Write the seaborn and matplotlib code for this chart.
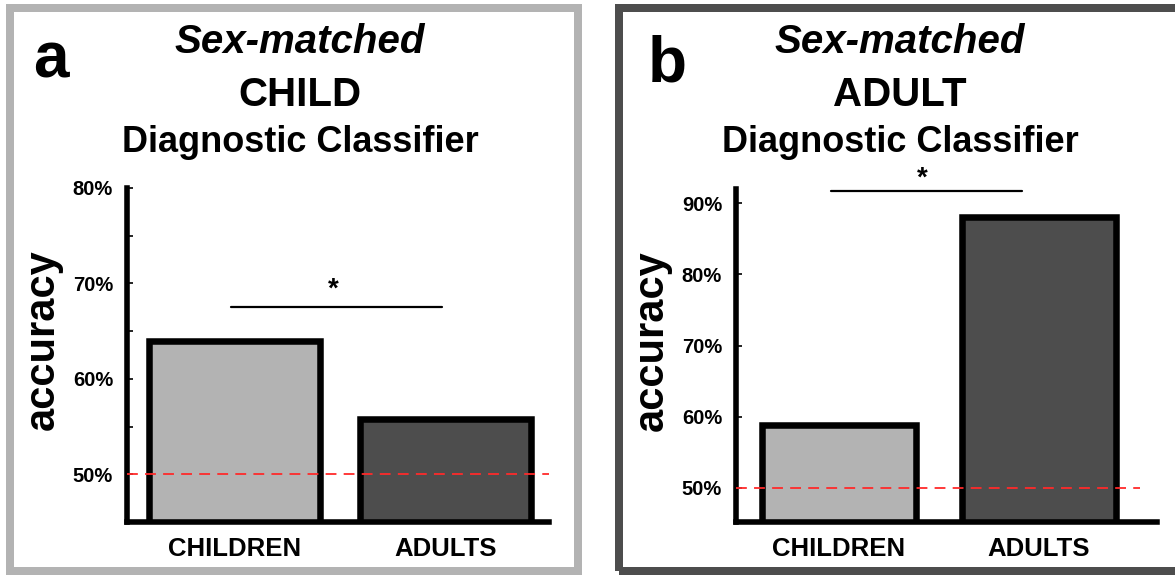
import matplotlib
matplotlib.use("Agg")
import matplotlib.pyplot as plt
import seaborn as sns
import pandas as pd
from matplotlib.patches import Rectangle
from matplotlib.ticker import FixedLocator, FuncFormatter

# ---------------- data ----------------
groups = ["CHILDREN", "ADULTS"]
child_classifier_acc = [64.0, 55.8]   # panel a (%)
adult_classifier_acc = [58.8, 88.0]   # panel b (%)
chance_level = 50
bar_colors = ["#b3b3b3", "#4d4d4d"]
panel_letters = ["a", "b"]
panel_targets = ["CHILD", "ADULT"]
a_major_ticks = [50, 60, 70, 80]
a_minor_ticks = [55, 65, 75]
b_major_ticks = [50, 60, 70, 80, 90]

# ---------------- style ----------------
sns.set_style("white")
plt.rcParams["font.family"] = ["Liberation Sans", "DejaVu Sans"]
plt.rcParams["font.weight"] = "bold"
plt.rcParams["text.color"] = "black"
plt.rcParams["axes.labelcolor"] = "black"
plt.rcParams["xtick.color"] = "black"
plt.rcParams["ytick.color"] = "black"

W, H = 1175, 575
fig = plt.figure(figsize=(W / 100, H / 100), dpi=100)


def fx(px):
    return px / W


def fy(py):
    return 1 - py / H


def make_axes(left, right, bottom, top):
    return fig.add_axes([fx(left), fy(bottom), fx(right) - fx(left), fy(top) - fy(bottom)])


ax_a = make_axes(127, 549, 522, 188)
ax_b = make_axes(736, 1157, 522, 189)

pct = FuncFormatter(lambda v, p: f"{v:.0f}%")

panels = [
    (ax_a, child_classifier_acc, (45, 80), a_major_ticks, a_minor_ticks, 0.81, (-0.51, 1.49)),
    (ax_b, adult_classifier_acc, (45.2, 92), b_major_ticks, [], 0.77, (-0.515, 1.59)),
]

for ax, vals, ylim, majors, minors, bw, xlim in panels:
    df = pd.DataFrame({"group": groups, "accuracy": vals})
    sns.barplot(data=df, x="group", y="accuracy", hue="group", palette=bar_colors,
                edgecolor="black", linewidth=4.7, width=bw, legend=False, ax=ax,
                saturation=1)
    ax.set_ylim(*ylim)
    ax.set_xlim(*xlim)
    ax.yaxis.set_major_locator(FixedLocator(majors))
    ax.yaxis.set_minor_locator(FixedLocator(minors))
    ax.yaxis.set_major_formatter(pct)
    ax.tick_params(axis="y", which="both", direction="in", length=4, width=1.2,
                   pad=10, labelsize=14.5, left=True, color="black", labelcolor="black")
    ax.tick_params(axis="x", length=0, pad=11, labelsize=18.5, labelcolor="black")
    for s in ["top", "right"]:
        ax.spines[s].set_visible(False)
    for s in ["left", "bottom"]:
        ax.spines[s].set_linewidth(4)
        ax.spines[s].set_color("black")
    ax.set_xlabel("")
    ax.set_ylabel("accuracy", fontsize=30, fontweight="bold", color="black")
    ax.yaxis.set_label_coords(-0.152, 0.545)
    ax.patch.set_alpha(0)

# chance lines
ax_a.axhline(chance_level, color="#ff2a2a", lw=1.3, ls=(0, (6, 4)), zorder=6, xmax=1.0)
ax_b.axhline(chance_level, color="#ff2a2a", lw=1.3, ls=(0, (6, 4)), zorder=6, xmax=0.96)

# significance markers
ax_a.plot([-0.017, 0.985], [67.5, 67.5], color="black", lw=1.6, clip_on=False)
ax_a.text(0.47, 69.4, "*", ha="center", va="center", fontsize=20, clip_on=False)
ax_b.plot([-0.04, 0.915], [91.7, 91.7], color="black", lw=1.6, clip_on=False)
ax_b.text(0.415, 93.4, "*", ha="center", va="center", fontsize=20, clip_on=False)

# titles
for cx, letter_x, letter_base, letter, target in [(300, 33, 78, "a", "CHILD"),
                                                  (900, 648, 82, "b", "ADULT")]:
    fig.text(fx(letter_x), fy(letter_base), letter, fontsize=46, fontweight="bold",
             ha="left", va="baseline", color="black")
    fig.text(fx(cx), fy(53), "Sex-matched", fontsize=29, fontweight="bold",
             style="italic", ha="center", va="baseline", color="black")
    fig.text(fx(cx), fy(106), target, fontsize=29, fontweight="bold",
             ha="center", va="baseline", color="black")
    fig.text(fx(cx), fy(152), "Diagnostic Classifier", fontsize=26, fontweight="bold",
             ha="center", va="baseline", color="black")

# panel frames
lw_frame = 8 * 72 / 100
fig.add_artist(Rectangle((fx(10), fy(571)), fx(578) - fx(10), fy(8) - fy(571),
                         transform=fig.transFigure, fill=False, edgecolor="#b3b3b3",
                         lw=lw_frame, joinstyle="miter"))
fig.add_artist(Rectangle((fx(619), fy(571)), fx(1185) - fx(619), fy(8) - fy(571),
                         transform=fig.transFigure, fill=False, edgecolor="#4d4d4d",
                         lw=lw_frame, joinstyle="miter", clip_on=False))

fig.savefig("out.png", dpi=100, facecolor="white")
